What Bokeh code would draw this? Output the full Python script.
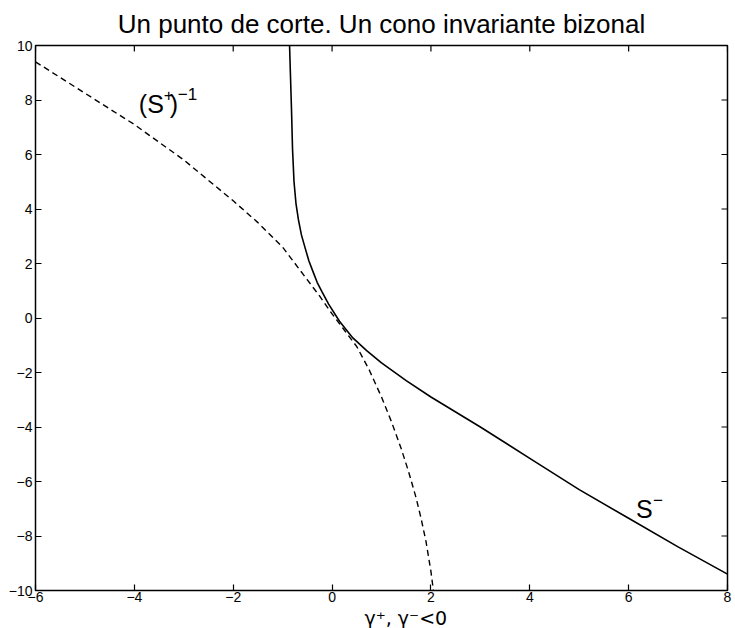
import math
from bokeh.plotting import figure
from bokeh.models import Range1d, FixedTicker, Label, Title
from bokeh.embed import file_html
from bokeh.resources import INLINE

# Data
s_minus_x = [-0.86, -0.84, -0.82, -0.8, -0.77, -0.73, -0.68, -0.62, -0.55, -0.47, -0.39, -0.3, -0.2, -0.07, 0.15, 0.42, 0.7, 1.0, 1.5, 2.0, 3.0, 4.0, 5.0, 6.0, 7.0, 8.0]
s_minus_y = [10.0, 8.8, 7.6, 6.2, 5.0, 4.2, 3.6, 3.05, 2.6, 2.1, 1.72, 1.3, 0.95, 0.51, -0.12, -0.73, -1.2, -1.65, -2.3, -2.9, -4.0, -5.15, -6.3, -7.35, -8.4, -9.4]

s_plus_inv_x = [-6.0, -5.0, -4.0, -3.0, -2.0, -1.5, -1.0, -0.75, -0.5, -0.25, 0.0, 0.25, 0.5, 0.75, 1.0, 1.2, 1.4, 1.55, 1.7, 1.8, 1.9, 2.0, 2.05]
s_plus_inv_y = [9.4, 8.25, 7.1, 5.8, 4.3, 3.5, 2.6, 2.0, 1.4, 0.8, 0.15, -0.45, -1.05, -1.9, -2.9, -3.8, -4.8, -5.65, -6.6, -7.35, -8.2, -9.3, -10.0]

x_ticks = [-6, -4, -2, 0, 2, 4, 6, 8]
y_ticks = [-10, -8, -6, -4, -2, 0, 2, 4, 6, 8, 10]

title_text = "Un punto de corte. Un cono invariante bizonal"
xlabel_text = "γ⁺, γ⁻<0"

FONT = "Liberation Sans"

p = figure(width=735, height=628,
           x_range=Range1d(x_ticks[0], x_ticks[-1]), y_range=Range1d(y_ticks[0], y_ticks[-1]),
           output_backend="svg", toolbar_location=None,
           min_border_left=35, min_border_right=8,
           min_border_top=44, min_border_bottom=38)

p.title.text = title_text
p.title.text_font = FONT
p.title.text_font_size = "26px"
p.title.text_font_style = "normal"
p.title.text_color = "black"
p.title.align = "center"
p.title.standoff = 13

p.xgrid.visible = False
p.ygrid.visible = False
p.outline_line_color = "black"
p.outline_line_width = 1.5
p.background_fill_color = "white"
p.border_fill_color = "white"

for ax, ticks in ((p.xaxis[0], x_ticks), (p.yaxis[0], y_ticks)):
    ax.ticker = FixedTicker(ticks=ticks)
    ax.minor_tick_line_color = None
    ax.major_tick_in = 6
    ax.major_tick_out = 0
    ax.major_tick_line_color = "black"
    ax.major_tick_line_width = 1.2
    ax.axis_line_color = None
    ax.major_label_text_font = FONT
    ax.major_label_text_font_size = "14px"
    ax.major_label_text_color = "black"
    ax.major_label_standoff = 3
p.xaxis[0].major_label_standoff = 1

# inward ticks on the top and right edges of the box
p.ray(x=x_ticks, y=[y_ticks[-1]] * len(x_ticks), length=6, length_units="screen",
      angle=-math.pi / 2, line_color="black", line_width=1.2)
p.ray(x=[x_ticks[-1]] * len(y_ticks), y=y_ticks, length=6, length_units="screen",
      angle=math.pi, line_color="black", line_width=1.2)

p.line(s_plus_inv_x, s_plus_inv_y, line_color="black", line_width=1.4, line_dash="6 4")
p.line(s_minus_x, s_minus_y, line_color="black", line_width=1.6)

def lab(x, y, text, size, dx=0, dy=0):
    p.add_layout(Label(x=x, y=y, x_offset=dx, y_offset=dy, text=text, text_font=FONT,
                       text_font_size=size, text_color="black",
                       text_baseline="alphabetic", text_align="left"))

# (S+)^-1
lab(-3.91, 7.85, "(S", "25px")
lab(-3.91, 7.85, "+", "17px", dx=25, dy=9)
lab(-3.91, 7.85, ")", "25px", dx=31)
lab(-3.91, 7.85, "−1", "17px", dx=39, dy=10)
# S^-
lab(6.15, -7.0, "S", "25px")
lab(6.15, -7.0, "−", "17px", dx=17, dy=9)

xl = Title(text=xlabel_text, align="left", offset=329, text_font="DejaVu Sans",
           text_font_size="19px", text_font_style="normal", text_color="black",
           text_line_height=0.8, standoff=0)
p.add_layout(xl, "below")

open("out.html", "w").write(file_html(p, INLINE))
